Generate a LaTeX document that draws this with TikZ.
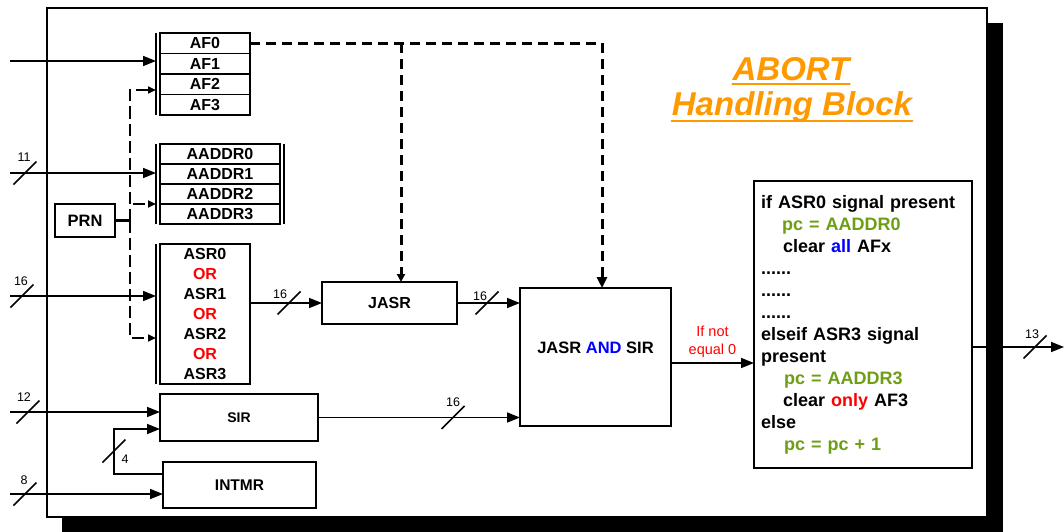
\documentclass[tikz,border=0pt]{standalone}
\usepackage{fontspec}
\setmainfont{Liberation Sans}
\usetikzlibrary{arrows.meta, positioning, calc}

\definecolor{titleorange}{RGB}{255,153,0}
\definecolor{codegreen}{RGB}{110,158,20}
\definecolor{andblue}{RGB}{0,0,255}
\definecolor{orred}{RGB}{255,0,0}

% bus width mark: slash on a wire plus its width
\newcommand{\busmark}[3]{%
  \draw[busline] (#1) ++(-11.5,11.5) -- ++(23,-23);
  \node[buslabel] at (#2) {#3};}

\begin{document}
\begin{tikzpicture}[
    x=1pt, y=-1pt,
    >={Triangle[length=13pt,width=10pt]},
    reg/.style={draw, line width=1.6pt, minimum width=90pt, minimum height=20.5pt, inner sep=0pt, outer sep=0pt, font=\fontsize{16}{19}\selectfont\bfseries},
    blk/.style={draw, line width=1.6pt, inner sep=0pt, outer sep=0pt, fill=white, font=\fontsize{16}{19}\selectfont\bfseries},
    wire/.style={line width=1.6pt},
    ctrl/.style={line width=2.4pt, dash pattern=on 12pt off 5pt},
    abortline/.style={line width=3pt, dash pattern=on 10pt off 6pt},
    busline/.style={line width=1.5pt},
    buslabel/.style={inner sep=0pt, font=\fontsize{12.5}{14}\selectfont},
    ttl/.style={inner sep=0pt, text=titleorange, font=\fontsize{33}{40}\selectfont\bfseries\itshape}
]
  \useasboundingbox (0,0) rectangle (1064,532);

  % frame with shadow
  \fill (62,23) rectangle (1003,532);
  \draw[fill=white, line width=1.6pt] (47,8) rectangle (987,517);

  % title
  \node[ttl, anchor=base] (ttla) at (791,81) {ABORT};
  \node[ttl, anchor=base] (ttlb) at (792,116) {Handling Block};
  \draw[titleorange, line width=2.5pt, line cap=round] ([yshift=-3pt]ttla.base west) -- ([yshift=-3pt]ttla.base east);
  \draw[titleorange, line width=2.5pt, line cap=round] ([yshift=-5pt]ttlb.base west) -- ([yshift=-5pt]ttlb.base east);

  % abort flag registers
  \node[reg] (af0) at (205,43.25) {AF0};
  \node[reg, below=0pt of af0] (af1) {AF1};
  \node[reg, below=0pt of af1] (af2) {AF2};
  \node[reg, below=0pt of af2] (af3) {AF3};
  \draw[wire] ([xshift=-4pt]af0.north west) -- ([xshift=-4pt]af3.south west);

  % abort address registers
  \node[reg, minimum width=120pt, minimum height=20pt] (aaddr0) at (220,154) {AADDR0};
  \node[reg, minimum width=120pt, minimum height=20pt, below=0pt of aaddr0] (aaddr1) {AADDR1};
  \node[reg, minimum width=120pt, minimum height=20pt, below=0pt of aaddr1] (aaddr2) {AADDR2};
  \node[reg, minimum width=120pt, minimum height=20pt, below=0pt of aaddr2] (aaddr3) {AADDR3};
  \draw[wire] ([xshift=-4pt]aaddr0.north west) -- ([xshift=-4pt]aaddr3.south west);
  \draw[wire] ([xshift=4pt]aaddr0.north east) -- ([xshift=4pt]aaddr3.south east);

  % blocks
  \node[blk, minimum width=60pt, minimum height=33pt, font=\fontsize{16.5}{19}\selectfont\bfseries] (prn) at (85,220.5) {PRN};
  \node[blk, minimum width=90pt, minimum height=140pt, align=center, font=\fontsize{16}{20}\selectfont\bfseries] (asr) at (205,314)
    {ASR0\\\textcolor{orred}{OR}\\ASR1\\\textcolor{orred}{OR}\\ASR2\\\textcolor{orred}{OR}\\ASR3};
  \draw[wire] ([xshift=-4pt]asr.north west) -- ([xshift=-4pt]asr.south west);
  \node[blk, minimum width=135pt, minimum height=42pt] (jasr) at (389.5,303) {JASR};
  \node[blk, minimum width=151pt, minimum height=138pt] (andblk) at (595.5,357) {};
  \node[font=\fontsize{16.5}{19}\selectfont\bfseries] (andtxt) at (595.5,348) {JASR \textcolor{andblue}{AND} SIR};
  \node[blk, minimum width=158pt, minimum height=47pt, font=\fontsize{14}{17}\selectfont\bfseries] (sir) at (239,417.5) {SIR};
  \node[blk, minimum width=153pt, minimum height=46pt, font=\fontsize{15.5}{18}\selectfont\bfseries] (intmr) at (239.5,485) {INTMR};
  \node[blk, minimum width=218pt, minimum height=287pt, text width=204pt, inner xsep=7pt, align=left, font=\fontsize{18}{22}\selectfont\bfseries] (code) at (863,324.5)
    {if ASR0 signal present\\
     \hspace*{21pt}\textcolor{codegreen}{pc = AADDR0}\\
     \hspace*{22pt}clear \textcolor{andblue}{all} AFx\\
     ......\\
     ......\\
     ......\\
     elseif ASR3 signal\\
     present\\
     \hspace*{23pt}\textcolor{codegreen}{pc = AADDR3}\\
     \hspace*{22pt}clear \textcolor{orred}{only} AF3\\
     else\\
     \hspace*{23pt}\textcolor{codegreen}{pc = pc + 1}};

  % end points
  \coordinate (inaf) at (10,61);
  \coordinate (inaddr) at (10,173);
  \coordinate (inasr) at (10,296);
  \coordinate (insir) at (10,412);
  \coordinate (inint) at (10,494);
  \coordinate (out) at (1064,347);
  \coordinate (split) at (130,220.5);
  \coordinate (afin) at (156,90);
  \coordinate (adin) at (156,204);
  \coordinate (asrin) at (156,338);
  \coordinate (afbar) at ([xshift=-4pt]af0.west);
  \coordinate (adbar) at ([xshift=-4pt]aaddr0.west);
  \coordinate (asrbar) at ([xshift=-4pt]asr.west);
  \coordinate (jtap) at ([xshift=11.5pt]jasr.north);
  \coordinate (atap) at ([xshift=6.5pt]andblk.north);
  \coordinate (andout) at ([yshift=-6pt]andblk.east);
  \coordinate (codeout) at ([yshift=-22.5pt]code.east);
  \coordinate (intout) at ([yshift=11pt]intmr.west);
  \coordinate (sirin) at ([yshift=-11.5pt]sir.west);

  % inputs
  \draw[wire, ->] (inaf) -- (inaf -| afbar);
  \draw[wire, ->] (inaddr) -- (inaddr -| adbar);
  \draw[wire, ->] (inasr) -- (inasr -| asrbar);
  \draw[wire, ->] (insir) -- (insir -| sir.west);
  \draw[wire, ->] (inint) -- (inint -| intmr.west);

  % PRN control
  \draw[line width=3.5pt] (prn.east) -- (split);
  \draw[ctrl, -{Triangle[length=8pt,width=7pt]}] (split) |- (afin);
  \draw[ctrl, -{Triangle[length=8pt,width=7pt]}] (split) |- (asrin);
  \draw[ctrl, -{Triangle[length=8pt,width=7pt]}] ([xshift=3pt]split |- adin) -- (adin);

  % abort flag enables
  \draw[abortline, -{Triangle[length=11pt,width=10pt]}] (af0.east) -| (atap);
  \draw[abortline, -{Triangle[length=8pt,width=8pt]}] (af0.east -| jtap) -- (jtap);

  % data path
  \draw[wire, ->] (asr.east |- jasr.west) -- (jasr.west);
  \draw[wire, ->] (jasr.east) -- (jasr.east -| andblk.west);
  \draw[wire, ->] (sir.east) -- (sir.east -| andblk.west);
  \draw[wire, ->] (andout) -- node[above, inner sep=5pt, align=center, text=orred, font=\fontsize{14.5}{18}\selectfont] {If not\\equal 0} (andout -| code.west);
  \draw[wire, ->] (codeout) -- (out);
  \draw[wire, ->] (intout) -- ++(-49,0) |- (sirin);

  % bus widths
  \busmark{25,173}{24,157}{11}
  \busmark{22,296}{21,281}{16}
  \busmark{28,412}{24,397}{12}
  \busmark{25,494}{24,480}{8}
  \busmark{289,303}{280,294}{16}
  \busmark{487,303}{480,296}{16}
  \busmark{453,417.5}{453,402}{16}
  \busmark{1035,347}{1032,334}{13}
  \busmark{114,451}{125,459}{4}
\end{tikzpicture}
\end{document}
